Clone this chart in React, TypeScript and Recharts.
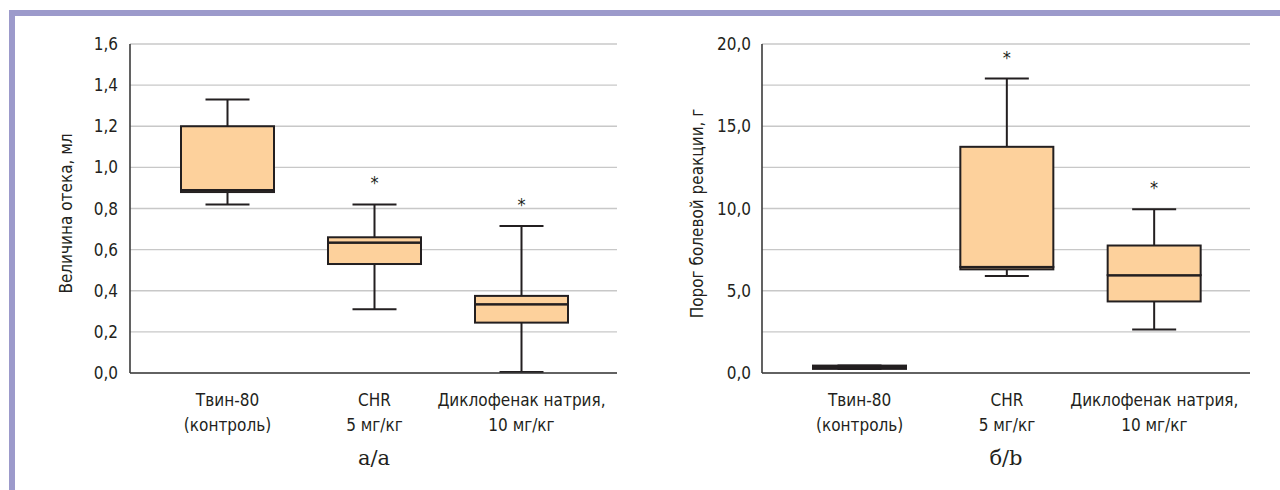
import { ComposedChart, Bar, XAxis, YAxis, CartesianGrid, Label, LabelList } from "recharts";

// category labels (two lines each)
const catTop = ["Твин-80", "CHR", "Диклофенак натрия,"];
const catBottom = ["(контроль)", "5 мг/кг", "10 мг/кг"];

// a/a – paw oedema, ml
const edemaMin = [0.82, 0.31, 0.005];
const edemaQ1 = [0.88, 0.53, 0.245];
const edemaMed = [0.89, 0.635, 0.335];
const edemaQ3 = [1.2, 0.66, 0.375];
const edemaMax = [1.33, 0.82, 0.715];
const edemaStar = ["", "*", "*"];
const edemaTicks = [0, 0.2, 0.4, 0.6, 0.8, 1.0, 1.2, 1.4, 1.6];

// б/b – pain threshold, g
const painMin = [0.25, 5.9, 2.65];
const painQ1 = [0.25, 6.3, 4.35];
const painMed = [0.35, 6.45, 5.95];
const painQ3 = [0.45, 13.75, 7.75];
const painMax = [0.45, 17.9, 9.95];
const painStar = ["", "*", "*"];
const painTicks = [0, 2.5, 5, 7.5, 10, 12.5, 15, 17.5, 20];

const FONT = '"Liberation Sans Narrow", "DejaVu Sans Condensed", sans-serif';
const INK = "#231f20";
const FILL = "#fdd19c";

const buildRows = (mn: number[], q1: number[], md: number[], q3: number[], mx: number[], star: string[]) =>
  catTop.map((c, i) => ({
    name: c,
    sub: catBottom[i],
    base: mn[i],
    wLow: q1[i] - mn[i],
    boxLow: md[i] - q1[i],
    boxHigh: q3[i] - md[i],
    wHigh: mx[i] - q3[i],
    star: star[i],
  }));

const edemaRows = buildRows(edemaMin, edemaQ1, edemaMed, edemaQ3, edemaMax, edemaStar);
const painRows = buildRows(painMin, painQ1, painMed, painQ3, painMax, painStar);

const Empty = () => <g />;

const WhiskerLow = (p: any) => {
  const cx = p.x + p.width / 2;
  const yb = p.y + p.height;
  return (
    <g stroke={INK} strokeWidth={2}>
      <line x1={cx} x2={cx} y1={p.y} y2={yb} />
      <line x1={cx - 22} x2={cx + 22} y1={yb} y2={yb} />
    </g>
  );
};

const WhiskerHigh = (p: any) => {
  const cx = p.x + p.width / 2;
  return (
    <g stroke={INK} strokeWidth={2}>
      <line x1={cx} x2={cx} y1={p.y} y2={p.y + p.height} />
      <line x1={cx - 22} x2={cx + 22} y1={p.y} y2={p.y} />
    </g>
  );
};

const BoxLow = (p: any) => (
  <g>
    <rect x={p.x} y={p.y} width={p.width} height={Math.max(p.height, 0)} fill={FILL} stroke={INK} strokeWidth={2} />
    <line x1={p.x} x2={p.x + p.width} y1={p.y} y2={p.y} stroke={INK} strokeWidth={2.6} />
  </g>
);

const BoxHigh = (p: any) => (
  <rect x={p.x} y={p.y} width={p.width} height={Math.max(p.height, 0)} fill={FILL} stroke={INK} strokeWidth={2} />
);

const Star = (p: any) => {
  if (!p.value) return null;
  return (
    <text x={p.x + p.width / 2} y={p.y - 15} textAnchor="middle" fontFamily={FONT} fontSize={18} fill={INK}>
      {p.value}
    </text>
  );
};

const CatTick = (p: any) => {
  const row = catTop.indexOf(p.payload.value);
  return (
    <text x={p.x} y={p.y} textAnchor="middle" fontFamily={FONT} fontSize={17} fill={INK}>
      <tspan x={p.x} dy={25}>{p.payload.value}</tspan>
      <tspan x={p.x} dy={25}>{catBottom[row]}</tspan>
    </text>
  );
};

const yTitle = (text: string, x: number) => (props: any) => {
  const vb = props.viewBox;
  const cy = vb.y + vb.height / 2 + 5;
  return (
    <text x={x} y={cy} transform={`rotate(-90, ${x}, ${cy})`} textAnchor="middle" fontFamily={FONT} fontSize={17} fill={INK}>
      {text}
    </text>
  );
};

type PanelProps = {
  rows: any[];
  ticks: number[];
  max: number;
  fmt: (v: number) => string;
  axisWidth: number;
  rightGap: number;
  title: string;
  titleX: number;
  tickMargin: number;
};

const Panel = ({ rows, ticks, max, fmt, axisWidth, rightGap, title, titleX, tickMargin }: PanelProps) => (
  <ComposedChart width={640} height={490} data={rows} margin={{ top: 44, right: rightGap, bottom: 0, left: 0 }}>
    <CartesianGrid vertical={false} stroke="#c8c8c8" strokeWidth={1.3} />
    <XAxis
      dataKey="name"
      height={117}
      padding={{ left: 24, right: 22 }}
      tickLine={false}
      axisLine={{ stroke: "#3b3b3b", strokeWidth: 1.6 }}
      tick={<CatTick />}
      interval={0}
    />
    <YAxis
      width={axisWidth}
      domain={[0, max]}
      ticks={ticks}
      interval={0}
      tickFormatter={fmt}
      tickLine={false}
      tickSize={6}
      tickMargin={tickMargin}
      axisLine={{ stroke: "#3b3b3b", strokeWidth: 1.6 }}
      tick={{ fontFamily: FONT, fontSize: 17, fill: INK }}
      allowDataOverflow
    >
      <Label content={yTitle(title, titleX)} />
    </YAxis>
    <Bar dataKey="base" stackId="s" barSize={93} shape={<Empty />} isAnimationActive={false} />
    <Bar dataKey="wLow" stackId="s" barSize={93} shape={<WhiskerLow />} isAnimationActive={false} />
    <Bar dataKey="boxLow" stackId="s" barSize={93} shape={<BoxLow />} isAnimationActive={false} />
    <Bar dataKey="boxHigh" stackId="s" barSize={93} shape={<BoxHigh />} isAnimationActive={false} />
    <Bar dataKey="wHigh" stackId="s" barSize={93} shape={<WhiskerHigh />} isAnimationActive={false}>
      <LabelList dataKey="star" content={<Star />} />
    </Bar>
  </ComposedChart>
);

const captionStyle: any = {
  position: "absolute",
  top: 446,
  width: 120,
  textAlign: "center",
  fontFamily: '"DejaVu Serif", serif',
  fontSize: 21,
  color: INK,
};

export default function App() {
  return (
    <div style={{ position: "absolute", left: 0, top: 0, width: 1280, height: 490, background: "#fff", overflow: "hidden" }}>
      <div
        style={{
          position: "absolute",
          left: 9,
          top: 10,
          right: 0,
          bottom: 0,
          borderLeft: "6px solid #9c9acb",
          borderTop: "6px solid #9c9acb",
        }}
      />
      <div style={{ position: "absolute", left: 0, top: 0 }}>
        <Panel
          rows={edemaRows}
          ticks={edemaTicks}
          max={1.6}
          fmt={(v) => v.toFixed(1).replace(".", ",")}
          axisWidth={130}
          rightGap={23}
          title="Величина отека, мл"
          titleX={72}
          tickMargin={6}
        />
      </div>
      <div style={{ position: "absolute", left: 640, top: 0 }}>
        <Panel
          rows={painRows}
          ticks={painTicks}
          max={20}
          fmt={(v) => (v % 5 === 0 ? v.toFixed(1).replace(".", ",") : "")}
          axisWidth={122}
          rightGap={30}
          title="Порог болевой реакции, г"
          titleX={63}
          tickMargin={5}
        />
      </div>
      <div style={{ ...captionStyle, left: 314 }}>а/а</div>
      <div style={{ ...captionStyle, left: 946 }}>б/b</div>
    </div>
  );
}
